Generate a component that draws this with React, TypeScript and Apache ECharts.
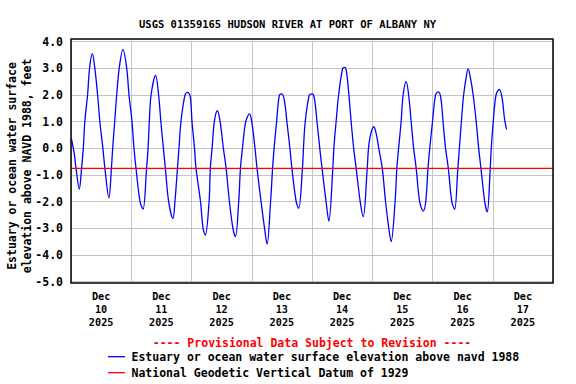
import React, { useEffect, useRef } from "react";
import * as echarts from "echarts";

const titleText = "USGS 01359165 HUDSON RIVER AT PORT OF ALBANY NY";
const yAxisTitle = "Estuary or ocean water surface\nelevation above NAVD 1988, feet";
const provisionalText = "---- Provisional Data Subject to Revision ----";
const seriesNames = [
  "Estuary or ocean water surface elevation above navd 1988",
  "National Geodetic Vertical Datum of 1929",
];
const seriesColors = ["#0000ff", "#ff0000"];
const dayLabels = [
  "Dec\n10\n2025",
  "Dec\n11\n2025",
  "Dec\n12\n2025",
  "Dec\n13\n2025",
  "Dec\n14\n2025",
  "Dec\n15\n2025",
  "Dec\n16\n2025",
  "Dec\n17\n2025",
];

// hours since Dec 10 2025 00:00
const tideHours = [
  0.2, 1.3, 2.0, 3.3,
  4.2, 4.9, 5.5, 6.6, 7.4, 8.5,
  9.5, 10.6, 11.5, 12.7, 13.5, 15.1,
  16.1, 16.6, 17.4, 18.2, 19.2, 20.7,
  22.2, 23.1, 24.3, 25.1, 25.9, 27.5, 28.7,
  30.1, 30.7, 31.2, 31.9, 33.7,
  34.9, 35.8, 36.8, 37.6, 38.9, 40.6,
  41.4, 42.4, 43.0, 43.8, 45.4, 46.5,
  47.5, 48.2, 49.2, 49.8, 51.6, 52.6, 53.5,
  55.0, 55.5, 56.2, 57.1, 58.3,
  59.4, 60.7, 61.8, 63.1, 64.5, 65.5,
  66.8, 67.5, 68.3, 69.6, 71.1,
  72.0, 73.3, 74.1, 75.7, 77.1, 78.1,
  79.5, 80.3, 80.9, 81.9, 83.0, 84.0,
  85.0, 86.0, 87.2, 88.0, 89.7, 90.7,
  92.2, 92.6, 93.3, 94.9, 96.0,
  96.9, 98.0, 99.1, 100.0, 101.6, 102.7,
  104.3, 104.7, 105.6, 106.6, 108.2, 109.0,
  109.7, 110.7, 111.6, 112.6, 113.6, 115.2, 116.4,
  118.0, 118.5, 119.3, 120.6,
  121.7, 122.6, 124.0, 125.3, 126.6, 127.5,
  129.1, 129.8, 130.5, 131.5, 132.3, 133.5,
  134.5, 135.5, 136.5, 137.5, 138.9, 140.3,
  141.3, 142.2, 142.9, 144.0, 145.2, 146.3,
  147.3, 148.2, 149.2, 150.3, 151.7, 152.8,
  154.1, 154.7, 155.5, 156.4, 157.3, 158.2,
  159.2, 160.2, 161.4, 162.4, 163.3, 164.8, 165.8,
  167.0, 167.4, 168.2, 169.3, 170.6,
  171.7, 172.7, 173.5,
];
const tideValues = [
  0.35, -0.2, -0.75, -1.53,
  -0.75, 0, 1, 2, 3, 3.55,
  3, 2, 1, 0, -0.75, -1.86,
  -0.75, 0, 1, 2, 3, 3.7,
  3, 2, 1, 0, -0.75, -2, -2.28,
  -0.75, 0, 1, 2, 2.74,
  2, 1, 0, -0.75, -2, -2.63,
  -2, -0.75, 0, 1, 2, 2.1,
  1.95, 1, 0, -0.75, -2, -3, -3.25,
  -2, -0.75, 0, 1, 1.41,
  1, 0, -0.75, -2, -3, -3.31,
  -2, -0.75, 0, 1, 1.29,
  1, 0, -0.75, -2, -3, -3.59,
  -2, -0.75, 0, 1, 2, 2.04,
  1.8, 1, 0, -0.75, -2, -2.25,
  -0.75, 0, 1, 2, 2.04,
  1.9, 1, 0, -0.75, -2, -2.73,
  -0.75, 0, 1, 2, 3, 3.04,
  2.9, 2, 1, 0, -0.75, -2, -2.56,
  -0.75, 0, 0.5, 0.81,
  0.5, 0, -0.75, -2, -3, -3.5,
  -2, -0.75, 0, 1, 2, 2.5,
  2, 1, 0, -0.75, -2, -2.35,
  -2, -0.75, 0, 1, 2, 2.12,
  1.9, 1, 0, -0.75, -2, -2.29,
  -0.75, 0, 1, 2, 2.6, 2.98,
  2.6, 2, 1, 0, -0.75, -2, -2.38,
  -0.75, 0, 1, 2, 2.21,
  1.9, 1.1, 0.71,
];
const datumHours = [0, 192];
const datumValues = [-0.75, -0.75];

const FONT = "'DejaVu Sans Mono', monospace";

export default function App() {
  const ref = useRef<HTMLDivElement>(null);
  useEffect(() => {
    if (!ref.current) return;
    const chart = echarts.init(ref.current, undefined, { renderer: "svg" });
    const tideData = tideHours.map((h, i) => [h, tideValues[i]]);
    const datumData = datumHours.map((h, i) => [h, datumValues[i]]);
    const legendY = [356.7, 372.7];
    const legendGraphics: any[] = [];
    seriesNames.forEach((name, i) => {
      legendGraphics.push({
        type: "line",
        shape: { x1: 108, y1: legendY[i], x2: 125, y2: legendY[i] },
        style: { stroke: seriesColors[i], lineWidth: 1.3 },
      });
      legendGraphics.push({
        type: "text",
        x: 131.5,
        y: legendY[i],
        style: {
          text: name,
          fontFamily: FONT,
          fontSize: 11.5,
          fontWeight: "bold",
          fill: "#000",
          align: "left",
          verticalAlign: "middle",
        },
      });
    });
    chart.setOption({
      animation: false,
      backgroundColor: "#ffffff",
      title: {
        text: titleText,
        left: 134,
        top: 13,
        textStyle: { fontFamily: FONT, fontSize: 10.5, fontWeight: "bold", color: "#000" },
      },
      grid: { left: 71, right: 23, top: 41.7, height: 240 },
      xAxis: [
        {
          type: "value",
          min: 0,
          max: 192,
          interval: 24,
          position: "bottom",
          axisLine: { show: false },
          axisTick: { show: false },
          axisLabel: { show: false },
          splitLine: { show: true, lineStyle: { color: "#c4c4c4", width: 1 } },
        },
        {
          type: "category",
          data: dayLabels,
          boundaryGap: true,
          position: "bottom",
          axisLine: { show: false },
          axisTick: { show: false },
          splitLine: { show: false },
          axisLabel: {
            interval: 0,
            margin: 8,
            fontFamily: FONT,
            fontSize: 10.2,
            fontWeight: "bold",
            color: "#000",
            lineHeight: 13.3,
          },
        },
      ],
      yAxis: {
        type: "value",
        min: -5,
        max: 4,
        interval: 1,
        axisLine: { show: false },
        axisTick: { show: false },
        axisLabel: {
          margin: 8,
          fontFamily: FONT,
          fontSize: 11.5,
          fontWeight: "bold",
          color: "#000",
          formatter: (v: number) => v.toFixed(1),
        },
        splitLine: { show: true, lineStyle: { color: "#c4c4c4", width: 1 } },
      },
      series: [
        {
          name: seriesNames[0],
          type: "line",
          xAxisIndex: 0,
          data: tideData,
          showSymbol: false,
          symbol: "none",
          smooth: 0.35,
          lineStyle: { color: seriesColors[0], width: 1.3 },
          itemStyle: { color: seriesColors[0] },
          z: 3,
        },
        {
          name: seriesNames[1],
          type: "line",
          xAxisIndex: 0,
          data: datumData,
          showSymbol: false,
          symbol: "none",
          lineStyle: { color: seriesColors[1], width: 1.3 },
          itemStyle: { color: seriesColors[1] },
          z: 4,
        },
      ],
      graphic: [
        {
          type: "rect",
          shape: { x: 71, y: 39, width: 482, height: 244 },
          style: { fill: "none", stroke: "#000", lineWidth: 1.5 },
          z: 100,
          silent: true,
        },
        {
          type: "text",
          x: 19,
          y: 166,
          rotation: Math.PI / 2,
          style: {
            text: yAxisTitle,
            fontFamily: FONT,
            fontSize: 11.5,
            fontWeight: "bold",
            fill: "#000",
            align: "center",
            verticalAlign: "middle",
            lineHeight: 15,
          },
        },
        {
          type: "text",
          x: 312,
          y: 343.3,
          style: {
            text: provisionalText,
            fontFamily: FONT,
            fontSize: 11.5,
            fontWeight: "bold",
            fill: "#ff0000",
            align: "center",
            verticalAlign: "middle",
          },
        },
        ...legendGraphics,
      ],
    });
    return () => chart.dispose();
  }, []);
  return (
    <div
      ref={ref}
      style={{ position: "fixed", left: 0, top: 0, width: 576, height: 384 }}
    />
  );
}
